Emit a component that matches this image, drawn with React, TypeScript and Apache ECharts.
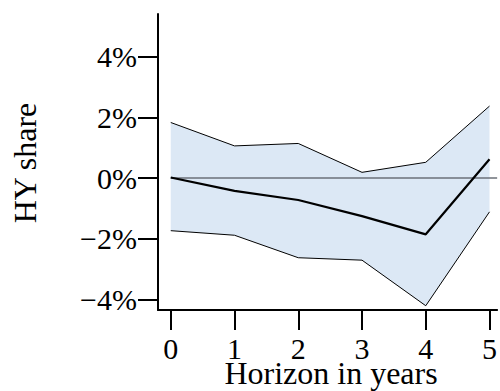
import React, { useEffect, useRef } from "react";
import * as echarts from "echarts";

const horizons = [0, 1, 2, 3, 4, 5];
const meanVals = [0.02, -0.42, -0.72, -1.25, -1.85, 0.62];
const upperVals = [1.83, 1.06, 1.14, 0.19, 0.52, 2.37];
const lowerVals = [-1.73, -1.88, -2.62, -2.7, -4.2, -1.11];
const yTicks = [-4, -2, 0, 2, 4];
const xTicks = [0, 1, 2, 3, 4, 5];
const zeroLine = [[0, 0], [5.12, 0]];

const FONT = "'Liberation Serif', 'DejaVu Serif', serif";

export default function App() {
  const ref = useRef<HTMLDivElement>(null);
  useEffect(() => {
    if (!ref.current) return;
    const chart = echarts.init(ref.current, null, { renderer: "svg" });
    const pairs = (vals: number[]) => horizons.map((h, i) => [h, vals[i]]);
    chart.setOption({
      animation: false,
      grid: { left: 158, right: 0, top: 14, bottom: 81, containLabel: false },
      xAxis: {
        type: "value",
        min: -0.2,
        max: 5.12,
        axisLine: { show: true, onZero: false, lineStyle: { color: "#000", width: 2 } },
        axisTick: { show: true, length: 20, customValues: xTicks, lineStyle: { color: "#000", width: 2 } },
        axisLabel: {
          customValues: xTicks,
          margin: 27,
          fontFamily: FONT,
          fontSize: 30,
          lineHeight: 22,
          color: "#000",
        },
        splitLine: { show: false },
      },
      yAxis: {
        type: "value",
        min: -4.34,
        max: 5.4,
        axisLine: { show: true, onZero: false, lineStyle: { color: "#000", width: 2 } },
        axisTick: { show: true, length: 20, customValues: yTicks, lineStyle: { color: "#000", width: 2 } },
        axisLabel: {
          customValues: yTicks,
          margin: 21,
          fontFamily: FONT,
          fontSize: 30,
          lineHeight: 24,
          color: "#000",
          formatter: (v: number) => (v < 0 ? "\u2212" + Math.abs(v) : String(v)) + "%",
        },
        splitLine: { show: false },
      },
      series: [
        {
          type: "custom",
          silent: true,
          z: 1,
          data: horizons.map((h, i) => [h, lowerVals[i], upperVals[i]]),
          renderItem: (params: any, api: any) => {
            if (params.dataIndex !== 0) return null;
            const top = horizons.map((h, i) => api.coord([h, upperVals[i]]));
            const bottom = horizons
              .map((h, i) => api.coord([h, lowerVals[i]]))
              .reverse();
            return {
              type: "polygon",
              shape: { points: top.concat(bottom) },
              style: { fill: "#dce8f5", stroke: "none" },
            };
          },
        },
        {
          type: "line",
          data: pairs(upperVals),
          symbol: "none",
          lineStyle: { color: "#000", width: 1 },
          z: 2,
        },
        {
          type: "line",
          data: pairs(lowerVals),
          symbol: "none",
          lineStyle: { color: "#000", width: 1 },
          z: 2,
        },
        {
          type: "line",
          data: zeroLine,
          symbol: "none",
          lineStyle: { color: "#6b7078", width: 1.5 },
          z: 3,
        },
        {
          type: "line",
          data: pairs(meanVals),
          symbol: "none",
          lineStyle: { color: "#000", width: 2.2 },
          z: 4,
        },
      ],
      graphic: [
        {
          type: "text",
          x: 25,
          y: 163,
          rotation: Math.PI / 2,
          style: {
            text: "HY share",
            fontFamily: FONT,
            fontSize: 32,
            lineHeight: 24,
            fill: "#000",
            align: "center",
            verticalAlign: "middle",
          },
        },
        {
          type: "text",
          x: 331,
          y: 373,
          style: {
            text: "Horizon in years",
            fontFamily: FONT,
            fontSize: 32,
            lineHeight: 22,
            fill: "#000",
            align: "center",
            verticalAlign: "middle",
          },
        },
      ],
    });
    return () => chart.dispose();
  }, []);
  return <div ref={ref} style={{ width: 500, height: 391, position: "absolute", left: 0, top: 0 }} />;
}
